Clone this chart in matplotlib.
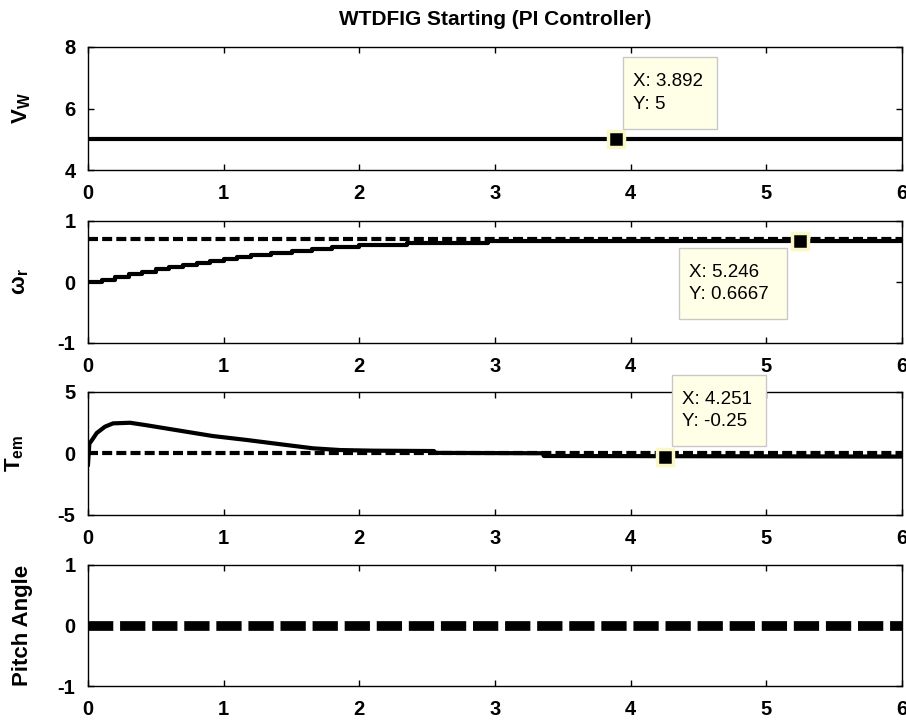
import numpy as np
import matplotlib
matplotlib.use("Agg")
import matplotlib.pyplot as plt

plt.rcParams['font.family'] = ['Liberation Sans', 'DejaVu Sans']
plt.rcParams['mathtext.fontset'] = 'custom'
plt.rcParams['mathtext.bf'] = 'Liberation Sans:bold'
plt.rcParams['mathtext.rm'] = 'Liberation Sans:bold'
plt.rcParams['mathtext.default'] = 'bf'
plt.rcParams['axes.unicode_minus'] = False

# === Datos ===
t_end = 6.0

# velocidad del viento
vw_t = [0.0, 6.0]
vw = [5.0, 5.0]

# velocidad del rotor (escalonada)
wr_t = [0.0, 0.1, 0.2, 0.3, 0.4, 0.5, 0.6, 0.7, 0.8, 0.9, 1.0, 1.1, 1.2, 1.35,
        1.5, 1.65, 1.8, 2.0, 2.35, 2.95, 6.0]
wr = [0.0, 0.03, 0.08, 0.13, 0.17, 0.21, 0.25, 0.28, 0.31, 0.34, 0.38, 0.41,
      0.44, 0.47, 0.51, 0.54, 0.57, 0.60, 0.64, 0.667, 0.667]
wr_ref = 0.7

# par electromagnetico
tem_t = [0.0, 0.01, 0.03, 0.064, 0.125, 0.185, 0.31, 0.43, 0.68, 0.92, 1.17,
         1.42, 1.66, 1.86, 2.1, 2.55, 2.56, 3.35, 3.36, 6.0]
tem = [-0.9, 0.8, 1.1, 1.66, 2.18, 2.45, 2.5, 2.3, 1.85, 1.42, 1.1, 0.75,
       0.42, 0.28, 0.23, 0.2, 0.05, 0.02, -0.2, -0.25]
tem_ref = 0.0

# angulo de pitch
pitch_t = [0.0, 6.0]
pitch = [0.0, 0.0]

# data tips (x, y)
tips = [(3.892, 5.0, "X: 3.892\nY: 5"),
        (5.246, 0.6667, "X: 5.246\nY: 0.6667"),
        (4.251, -0.25, "X: 4.251\nY: -0.25")]

fig = plt.figure(figsize=(9.06, 7.22), dpi=100)
W, H = 906.0, 722.0
left, right = 88, 902
rows = [(47, 170), (221, 343), (392, 515), (565, 686)]
axes = []
for top, bot in rows:
    ax = fig.add_axes([left / W, 1 - bot / H, (right - left) / W, (bot - top) / H])
    axes.append(ax)

ylims = [(4, 8), (-1, 1), (-5, 5), (-1, 1)]
yticks = [[4, 6, 8], [-1, 0, 1], [-5, 0, 5], [-1, 0, 1]]
ylabels = [r'$\mathbf{V_W}$', r'$\mathbf{\omega_r}$', r'$\mathbf{T_{em}}$', 'Pitch Angle']
label_x = [-0.068, -0.07, -0.076, -0.068]

for ax, yl, yt, lab, lx in zip(axes, ylims, yticks, ylabels, label_x):
    ax.set_xlim(0, t_end)
    ax.set_ylim(*yl)
    ax.set_xticks(range(0, 7))
    ax.set_yticks(yt)
    ax.tick_params(direction='in', length=4, width=1, top=True, right=True,
                   labelsize=14.5)
    ax.tick_params(axis='x', pad=10)
    ax.tick_params(axis='y', pad=9)
    for lbl in ax.get_xticklabels() + ax.get_yticklabels():
        lbl.set_fontweight('bold')
    ax.set_ylabel(lab, fontsize=16, fontweight='bold')
    ax.yaxis.set_label_coords(lx, 0.5)
    for s in ax.spines.values():
        s.set_linewidth(1)

axes[0].set_title("WTDFIG Starting (PI Controller)", fontsize=15, fontweight='bold', pad=16)

axes[0].plot(vw_t, vw, 'k-', lw=3)

axes[1].plot([0, t_end], [wr_ref, wr_ref], 'k--', lw=3, dashes=(2.4, 1.0))
axes[1].plot(wr_t, wr, 'k-', lw=3, drawstyle='steps-post')

axes[2].plot([0, t_end], [tem_ref, tem_ref], 'k--', lw=3, dashes=(2.4, 1.0))
axes[2].plot(tem_t, tem, 'k-', lw=3)

axes[3].plot(pitch_t, pitch, 'k--', lw=7, dashes=(2.6, 0.7))

# data tips
box_px = [(623, 57, 717, 129), (679, 248, 787, 319), (672, 375, 766, 446)]
for ax, (tx, ty, txt), (x0, y0, x1, y1) in zip(axes[:3], tips, box_px):
    ax.plot(tx, ty, 's', ms=11, mfc='k', mec='#fbf8c8', mew=2.5, zorder=5, clip_on=False)
    fig.patches.append(plt.Rectangle((x0 / W, 1 - y1 / H), (x1 - x0) / W, (y1 - y0) / H,
                                     transform=fig.transFigure, facecolor='#ffffe8',
                                     edgecolor='#c8c8c8', lw=1, zorder=10))
    fig.text((x0 + 10) / W, 1 - (y0 + y1) / 2 / H, txt, fontsize=13.5, va='center',
             ha='left', linespacing=1.45, zorder=11)

fig.savefig("out.png", dpi=100)
